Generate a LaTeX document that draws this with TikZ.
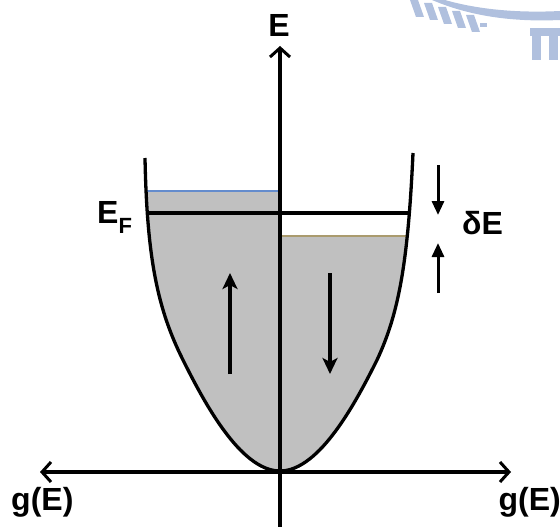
\documentclass[tikz,border=0pt]{standalone}
\usepackage{fontspec}
\setmainfont{Liberation Sans}
\usetikzlibrary{arrows.meta}
\definecolor{fillgrey}{RGB}{192,192,192}
\definecolor{lineblue}{RGB}{100,140,205}
\definecolor{linetan}{RGB}{170,155,110}
\definecolor{wmark}{RGB}{176,192,222}
\tikzset{
  lbl/.style={inner sep=0pt, font=\fontsize{32}{36}\selectfont\bfseries},
  barb/.tip={Straight Barb[length=9pt,width=20pt,line width=3pt]},
  axis/.style={line width=3.3pt},
  spin/.style={line width=4pt, -{Stealth[length=16pt,width=15pt,inset=4pt]}},
  gap/.style={line width=3pt, -{Triangle[length=14pt,width=12pt]}},
  curve/.style={line width=3.3pt},
}
\begin{document}
\begin{tikzpicture}[x=1pt,y=-1pt]
\useasboundingbox (0,0) rectangle (560,527);
% watermark fragment
\begin{scope}
\clip (400,0) rectangle (560,65);
\fill[wmark] (445,0) .. controls (480,10) and (520,13) .. (560,11) -- (560,20) .. controls (515,22) and (472,17) .. (432,0) -- cycle;
\foreach \a/\b in {410/0,424/3,438/7,452/11,466/15} {
  \fill[wmark] (\a,\b) -- ++(8,0) -- ++(6,17) -- ++(-8,0) -- cycle;
}
\fill[wmark] (480,23) rectangle (487,27);
\fill[wmark] (530,28) rectangle (560,36);
\fill[wmark] (532,36) rectangle (541,60);
\fill[wmark] (549,36) rectangle (558,60);
\end{scope}
% named points
\coordinate (vtx) at (280,471);
\coordinate (ltop) at (145,158);
\coordinate (rtop) at (413,153);
\coordinate (lmid) at (183,360);
\coordinate (rmid) at (377,360);
\def\leftcurve{(ltop) .. controls (147,260) and (158,310) .. (lmid) .. controls (203,400) and (240,471) .. (vtx)}
\def\rightcurve{(vtx) .. controls (320,471) and (357,400) .. (rmid) .. controls (399,313) and (408,262) .. (rtop)}
% fills
\begin{scope}
\clip (0,191) rectangle (280,527);
\fill[fillgrey] \leftcurve -- (280,150) -- cycle;
\end{scope}
\begin{scope}
\clip (280,236) rectangle (560,527);
\fill[fillgrey] \rightcurve -- (280,150) -- cycle;
\end{scope}
% filling levels
\coordinate (bl1) at (146,191);
\coordinate (bl2) at (278,191);
\coordinate (tl1) at (282,236);
\coordinate (tl2) at (409,236);
\draw[lineblue, line width=1.6pt] (bl1) -- (bl2);
\draw[linetan, line width=1.6pt] (tl1) -- (tl2);
% Fermi level
\coordinate (efl) at (148,213);
\coordinate (efr) at (410,213);
\draw[line width=3.3pt] (efl) -- (efr);
% DOS curve
\draw[curve] \leftcurve;
\draw[curve] \rightcurve;
% axes
\coordinate (ybot) at (280,527);
\coordinate (ytop) at (280,46);
\coordinate (xl) at (40,472);
\coordinate (xr) at (511,472);
\draw[axis, -barb] (ybot) -- (ytop);
\draw[axis, barb-barb] (xl) -- (xr);
% spin arrows
\coordinate (u1) at (230,374);
\coordinate (u2) at (230,273);
\coordinate (d1) at (330,273);
\coordinate (d2) at (330,374);
\draw[spin] (u1) -- (u2);
\draw[spin] (d1) -- (d2);
% delta E arrows
\coordinate (g1) at (438,165);
\coordinate (g2) at (438,215);
\coordinate (g3) at (438,293);
\coordinate (g4) at (438,243);
\draw[gap] (g1) -- (g2);
\draw[gap] (g3) -- (g4);
% labels
\node[lbl, anchor=base] (Elab) at (279,37) {E};
\node[lbl, anchor=base west] (gl) at (11,510) {g(E)};
\node[lbl, anchor=base east] (gr) at (561,510) {g(E)};
\node[lbl, anchor=base west] (dE) at (462,234) {δE};
\node[lbl, anchor=base west] (EF) at (97,223) {E\raisebox{-10pt}{\fontsize{22}{24}\selectfont\bfseries F}};
\end{tikzpicture}
\end{document}
